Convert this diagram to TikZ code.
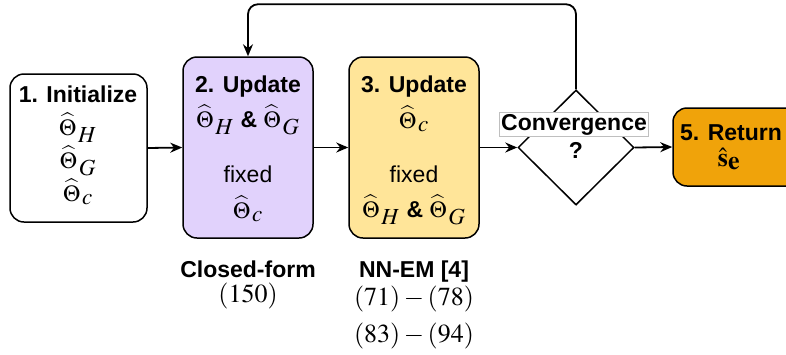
\documentclass[tikz,border=0pt]{standalone}
\usepackage{mathptmx}
\usepackage[no-math]{fontspec}
\setmainfont{Liberation Sans}
\usetikzlibrary{positioning,calc,shapes.geometric,arrows.meta}
\definecolor{UpdPurple}{RGB}{225,210,252}
\definecolor{UpdYellow}{RGB}{255,229,153}
\definecolor{RetOrange}{RGB}{240,163,10}
\newcommand{\thhat}[1]{\widehat{\Theta}_{\,\textstyle #1}}

\begin{document}
\begin{tikzpicture}[
		x=1pt, y=-1pt,
		box/.style={draw, line width=1.5pt, rounded corners=14pt, inner sep=0pt},
		ttl/.style={font=\fontsize{23}{27}\selectfont\bfseries, inner sep=0pt, anchor=base},
		txt/.style={font=\fontsize{23}{27}\selectfont, inner sep=0pt, anchor=base},
		eqn/.style={font=\fontsize{26}{30}\selectfont, inner sep=0pt, anchor=base},
		arr/.style={-{Stealth[length=12pt,width=10pt]}, line width=1.8pt}
		]
		\useasboundingbox (0,0) rectangle (786,354);
		
		% ===== boxes =====
		\node[box, minimum width=137pt, minimum height=148pt] (B1) at (78.5,148) {};
		\node[box, fill=UpdPurple, minimum width=130pt, minimum height=181pt] (B2) at (248,147.5) {};
		\node[box, fill=UpdYellow, minimum width=130pt, minimum height=181pt] (B3) at (414,147.5) {};
		\node[draw, diamond, line width=1.5pt, minimum width=116pt, minimum height=115pt, inner sep=0pt] (C) at (576,147.5) {};
		\node[box, fill=RetOrange, minimum width=140pt, minimum height=78pt] (B5) at (743,147) {};
		
		% ===== 1. Initialize =====
		\node[ttl] (T1) at (78,102) {1. Initialize};
		\foreach \s [count=\i from 1] in {H,G,c}{
			\node[txt] (I\s) at (78,{102+33*\i}) {$\thhat{\s}$};
		}
		
		% ===== 2. Update =====
		\node[ttl] (T2) at (248,92) {2. Update};
		\node[txt] (U2a) at (248,127) {$\thhat{H}$ \textbf{\&} $\thhat{G}$};
		\node[txt] (U2b) at (248,182) {fixed};
		\node[txt] (U2c) at (248,218) {$\thhat{c}$};
		
		% ===== 3. Update =====
		\node[ttl] (T3) at (414,92) {3. Update};
		\node[txt] (U3a) at (414,128) {$\thhat{c}$};
		\node[txt] (U3b) at (414,182) {fixed};
		\node[txt] (U3c) at (414,217) {$\thhat{H}$ \textbf{\&} $\thhat{G}$};
		
		% ===== convergence + return =====
		\node[ttl, fill=white, draw=black!25, line width=0.5pt, inner sep=1.5pt] (CL) at (574,130) {Convergence};
		\node[ttl] (CQ) at (576,158) {?};
		\node[ttl] (T5) at (731,140) {5. Return};
		\node[eqn] (S5) at (729,166) {$\hat{\mathbf{s}}_{\textstyle\mathbf{e}}$};
		
		% ===== labels below =====
		\node[ttl] (L2) at (248,277) {Closed-form};
		\node[eqn] (E2) at (248,302) {$(150)$};
		\node[ttl] (L3) at (414,277) {NN-EM [4]};
		\node[eqn] (E3a) at (414,305) {$(71)-(78)$};
		\node[eqn] (E3b) at (414,342) {$(83)-(94)$};
		
		% ===== arrows =====
		\draw[arr] (B1.east) -- (B2.west);
		\draw[arr] (B2.east) -- (B3.west);
		\draw[arr] (B3.east) -- (C.west);
		\draw[arr] (C.east) -- (B5.west);
		\draw[arr, rounded corners=10pt] (C.north) -- ++(0,-85) -| (B2.north);
		
	\end{tikzpicture}
\end{document}
